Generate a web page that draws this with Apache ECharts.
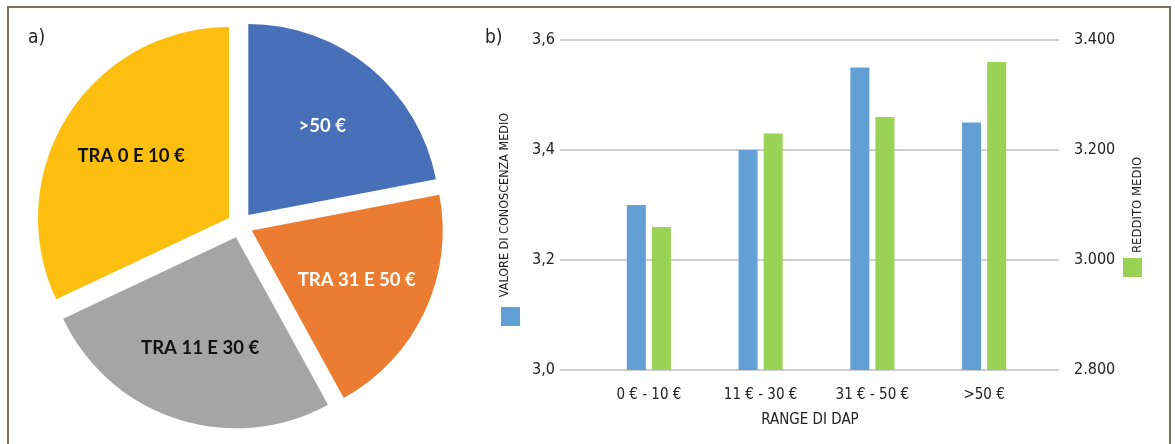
<!DOCTYPE html>
<html>
<head>
<meta charset="utf-8">
<title>DAP</title>
<script src="https://cdn.jsdelivr.net/npm/echarts@6/dist/echarts.min.js"></script>
<style>
  html, body { margin: 0; padding: 0; background: #fff; }
  #wrap { position: relative; width: 1175px; height: 444px; overflow: hidden; }
  #frame { position: absolute; left: 7px; top: 6px; width: 1164px; height: 460px;
           border: 2px solid #7d6e63; box-sizing: border-box; }
  #chart { position: absolute; left: 0; top: 0; width: 1175px; height: 444px; }
</style>
</head>
<body>
<div id="wrap">
  <div id="frame"></div>
  <div id="chart"></div>
</div>
<script>
// pie a) - share of respondents by DAP range
const pieNames = ['TRA 0 E 10 €', 'TRA 11 E 30 €', 'TRA 31 E 50 €', '>50 €'];
const pieValues = [32, 26, 20, 22];

// bar b)
const dapRanges = ['0 € - 10 €', '11 € - 30 €', '31 € - 50 €', '>50 €'];
const conoscenza = [3.30, 3.40, 3.55, 3.45];
const reddito = [3060, 3230, 3260, 3360];

const sliceColors = ['#FDBF0F', '#A5A5A5', '#EC7C31', '#4870B8'];
const sliceLabelColors = ['#111', '#111', '#fff', '#fff'];

const narrow = "'Liberation Sans Narrow', 'DejaVu Sans Condensed', sans-serif";
const txt = '#222';

const pieData = pieNames.map((n, i) => ({
  name: n,
  value: pieValues[i],
  selected: true,
  itemStyle: { color: sliceColors[i] }
}));

const labelData = pieNames.map((n, i) => ({
  name: n,
  value: pieValues[i],
  label: { color: sliceLabelColors[i] }
}));

const option = {
  animation: false,
  textStyle: { fontFamily: narrow, color: txt },
  title: [
    { text: 'a)', left: 23, top: 24, textStyle: { fontFamily: narrow, fontSize: 19, fontWeight: 'normal', color: txt } },
    { text: 'b)', left: 480, top: 24, textStyle: { fontFamily: narrow, fontSize: 19, fontWeight: 'normal', color: txt } }
  ],
  legend: [
    { data: ['VALORE DI CONOSCENZA MEDIO'], left: 501, top: 307, padding: 0, itemWidth: 19, itemHeight: 19,
      icon: 'rect', formatter: () => '', selectedMode: false },
    { data: ['REDDITO MEDIO'], left: 1123, top: 258, padding: 0, itemWidth: 19, itemHeight: 19,
      icon: 'rect', formatter: () => '', selectedMode: false }
  ],
  grid: [
    { left: 560, right: 116, top: 40, bottom: 74 },
    { left: 593, right: 135, top: 40, bottom: 74 }
  ],
  xAxis: [
    { gridIndex: 0, type: 'value', show: false, min: 0, max: 1 },
    {
      gridIndex: 1, type: 'category', data: dapRanges,
      axisLine: { show: false }, axisTick: { show: false },
      axisLabel: { fontSize: 15, color: txt, margin: 18 },
      name: 'RANGE DI DAP', nameLocation: 'middle', nameGap: 43,
      nameTextStyle: { fontSize: 15, color: txt, padding: [0, 13, 0, 0] }
    }
  ],
  yAxis: [
    {
      gridIndex: 0, type: 'value', min: 3.0, max: 3.6, interval: 0.2, position: 'left',
      axisLine: { show: false }, axisTick: { show: false },
      axisLabel: { fontSize: 16, color: txt, margin: 5, formatter: v => v.toFixed(1).replace('.', ',') },
      splitLine: { lineStyle: { color: '#BEBEBE', width: 1.5 } },
      name: 'VALORE DI CONOSCENZA MEDIO', nameLocation: 'middle', nameRotate: 90, nameGap: 49,
      nameTextStyle: { fontSize: 12.5, color: txt }
    },
    {
      gridIndex: 0, type: 'value', min: 2800, max: 3400, interval: 200, position: 'right',
      axisLine: { show: false }, axisTick: { show: false }, splitLine: { show: false },
      axisLabel: { fontSize: 16, color: txt, margin: 15, formatter: v => String(v).replace(/(\d)(\d{3})$/, '$1.$2') },
      name: 'REDDITO MEDIO', nameLocation: 'middle', nameRotate: 90, nameGap: 72,
      nameTextStyle: { fontSize: 13, color: txt }
    },
    { gridIndex: 1, type: 'value', min: 3.0, max: 3.6, interval: 0.2, show: false },
    { gridIndex: 1, type: 'value', min: 2800, max: 3400, interval: 200, show: false }
  ],
  series: [
    {
      type: 'pie', center: [240, 225], radius: 191, startAngle: 90, clockwise: false,
      selectedMode: 'multiple', selectedOffset: 13,
      label: { show: false }, labelLine: { show: false },
      emphasis: { disabled: true }, silent: true,
      data: pieData
    },
    {
      type: 'pie', center: [240, 225], radius: 252, startAngle: 90, clockwise: false,
      itemStyle: { color: 'rgba(0,0,0,0)' },
      label: { show: true, position: 'inside', fontFamily: 'Lato, sans-serif', fontWeight: 'bold', fontSize: 18.5 },
      labelLine: { show: false }, emphasis: { disabled: true }, silent: true,
      data: labelData
    },
    {
      name: 'VALORE DI CONOSCENZA MEDIO', type: 'bar', xAxisIndex: 1, yAxisIndex: 2,
      barWidth: 19, barGap: '32%', itemStyle: { color: '#629FD4' }, data: conoscenza
    },
    {
      name: 'REDDITO MEDIO', type: 'bar', xAxisIndex: 1, yAxisIndex: 3,
      barWidth: 19, barGap: '32%', itemStyle: { color: '#99D356' }, data: reddito
    }
  ]
};

const chart = echarts.init(document.getElementById('chart'));
chart.setOption(option);
</script>
</body>
</html>
